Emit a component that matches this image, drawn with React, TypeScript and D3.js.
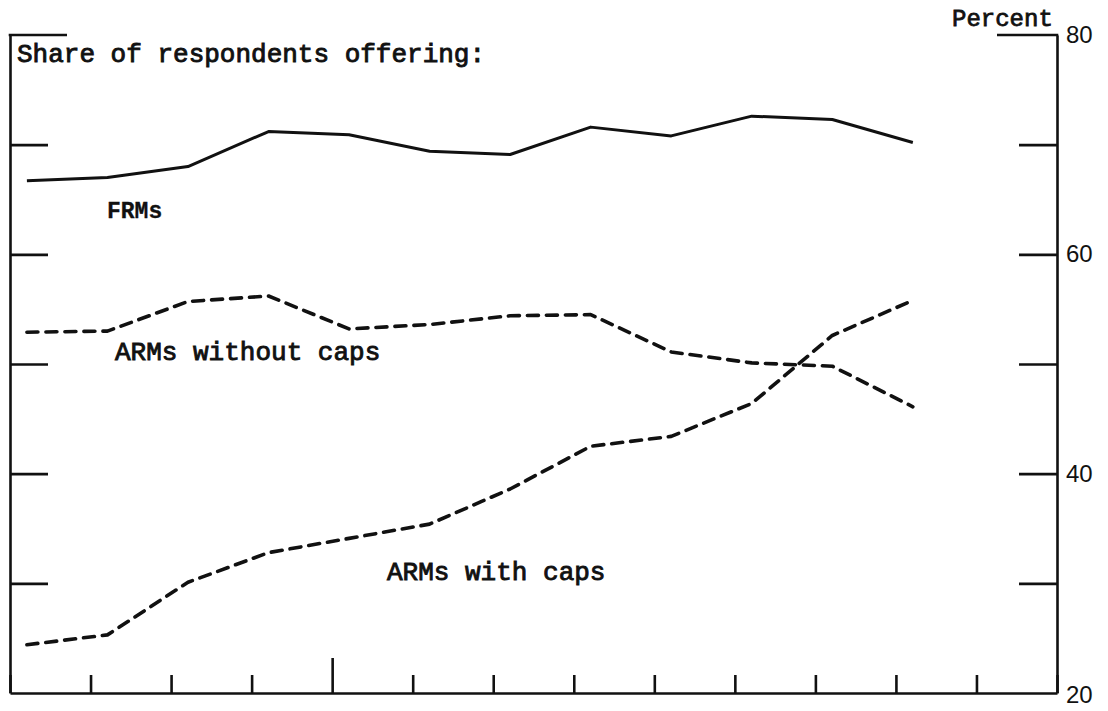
import { useEffect, useRef } from "react";
import * as d3 from "d3";

const width = 1108,
  height = 711;
const plot = { left: 10, right: 1057, top: 35, bottom: 693 };

// survey rounds (one per x interval), values in percent
const rounds = [0, 1, 2, 3, 4, 5, 6, 7, 8, 9, 10, 11];
const frms = [66.7, 67.0, 68.0, 71.2, 70.9, 69.4, 69.1, 71.6, 70.8, 72.6, 72.3, 70.2];
const armsWithoutCaps = [52.9, 53.0, 55.7, 56.2, 53.2, 53.6, 54.4, 54.5, 51.1, 50.1, 49.8, 46.1];
const armsWithCaps = [24.4, 25.3, 30.1, 32.8, 34.1, 35.4, 38.6, 42.5, 43.4, 46.4, 52.6, 55.8];

const xTicks = [0, 1, 2, 3, 4, 5, 6, 7, 8, 9, 10, 11, 12, 13];
const majorXTick = 4;
const yTicks = [30, 40, 50, 60, 70];
const yLabels = [20, 40, 60, 80];
const roundOffset = 0.21;

const mono = "'Liberation Mono', 'Courier New', monospace";

const App = () => {
  const ref = useRef<SVGSVGElement | null>(null);

  useEffect(() => {
    const svg = d3.select(ref.current);
    svg.selectAll("*").remove();

    const x = d3.scaleLinear().domain([0, 13]).range([plot.left, plot.right]);
    const y = d3.scaleLinear().domain([20, 80]).range([plot.bottom, plot.top]);

    const ink = "#111";

    // left axis, ticks pointing inward
    const left = svg
      .append("g")
      .attr("transform", `translate(${plot.left},0)`)
      .call(d3.axisLeft(y).tickValues(yTicks).tickSizeInner(-38).tickSizeOuter(0).tickFormat(() => ""));
    // right axis, ticks pointing inward, labels drawn separately
    const right = svg
      .append("g")
      .attr("transform", `translate(${plot.right},0)`)
      .call(d3.axisRight(y).tickValues(yTicks).tickSizeInner(-38).tickSizeOuter(0).tickFormat(() => ""));
    // bottom axis, short upward ticks
    const bottom = svg
      .append("g")
      .attr("transform", `translate(0,${plot.bottom})`)
      .call(d3.axisBottom(x).tickValues(xTicks).tickSizeInner(-18).tickSizeOuter(0).tickFormat(() => ""));

    bottom
      .selectAll("g.tick line")
      .filter((d: any) => d === majorXTick)
      .attr("y2", -35);

    [left, right, bottom].forEach((g) => {
      g.selectAll("path.domain").attr("stroke", ink).attr("stroke-width", 2.6);
      g.selectAll("g.tick line").attr("stroke", ink).attr("stroke-width", 2.6);
    });

    // longer top ticks at 80
    svg
      .append("line")
      .attr("x1", plot.left - 1.3)
      .attr("x2", plot.left + 57)
      .attr("y1", y(80))
      .attr("y2", y(80))
      .attr("stroke", ink)
      .attr("stroke-width", 2.6);
    svg
      .append("line")
      .attr("x1", plot.right + 1.3)
      .attr("x2", plot.right - 60)
      .attr("y1", y(80))
      .attr("y2", y(80))
      .attr("stroke", ink)
      .attr("stroke-width", 2.6);

    // right-hand labels
    svg
      .append("g")
      .selectAll("text")
      .data(yLabels)
      .join("text")
      .attr("x", plot.right + 9)
      .attr("y", (d) => y(d) + (d === 20 ? 10 : 8))
      .attr("font-family", "'Liberation Sans', Arial, sans-serif")
      .attr("font-size", 24)
      .attr("fill", ink)
      .text((d) => d);

    svg
      .append("text")
      .attr("x", 952)
      .attr("y", 26)
      .attr("font-family", mono)
      .attr("font-size", 24)
      .attr("fill", ink)
      .attr("stroke", ink)
      .attr("stroke-width", 0.8)
      .text("Percent");

    // series
    const line = d3
      .line<number>()
      .x((_, i) => x(rounds[i] + roundOffset))
      .y((d) => y(d));

    svg
      .append("path")
      .datum(frms)
      .attr("d", line)
      .attr("fill", "none")
      .attr("stroke", ink)
      .attr("stroke-width", 3)
      .attr("stroke-linejoin", "round");

    [armsWithoutCaps, armsWithCaps].forEach((s) => {
      svg
        .append("path")
        .datum(s)
        .attr("d", line)
        .attr("fill", "none")
        .attr("stroke", ink)
        .attr("stroke-width", 3.6)
        .attr("stroke-dasharray", "11 8")
        .attr("stroke-linecap", "round")
        .attr("stroke-linejoin", "round");
    });

    // annotations
    const notes = [
      { text: "Share of respondents offering:", x: 17, y: 62, size: 26, bold: false },
      { text: "FRMs", x: 107, y: 218, size: 23, bold: true },
      { text: "ARMs without caps", x: 115, y: 360, size: 26, bold: false },
      { text: "ARMs with caps", x: 387, y: 580, size: 26, bold: false },
    ];
    svg
      .append("g")
      .selectAll("text")
      .data(notes)
      .join("text")
      .attr("x", (d) => d.x)
      .attr("y", (d) => d.y)
      .attr("font-family", mono)
      .attr("font-size", (d) => d.size)
      .attr("font-weight", (d) => (d.bold ? "bold" : "normal"))
      .attr("fill", ink)
      .attr("stroke", ink)
      .attr("stroke-width", (d) => (d.bold ? 0.3 : 0.9))
      .text((d) => d.text);
  }, []);

  return (
    <svg
      ref={ref}
      width={width}
      height={height}
      style={{ position: "absolute", left: 0, top: 0, background: "#fff" }}
    />
  );
};

export default App;
